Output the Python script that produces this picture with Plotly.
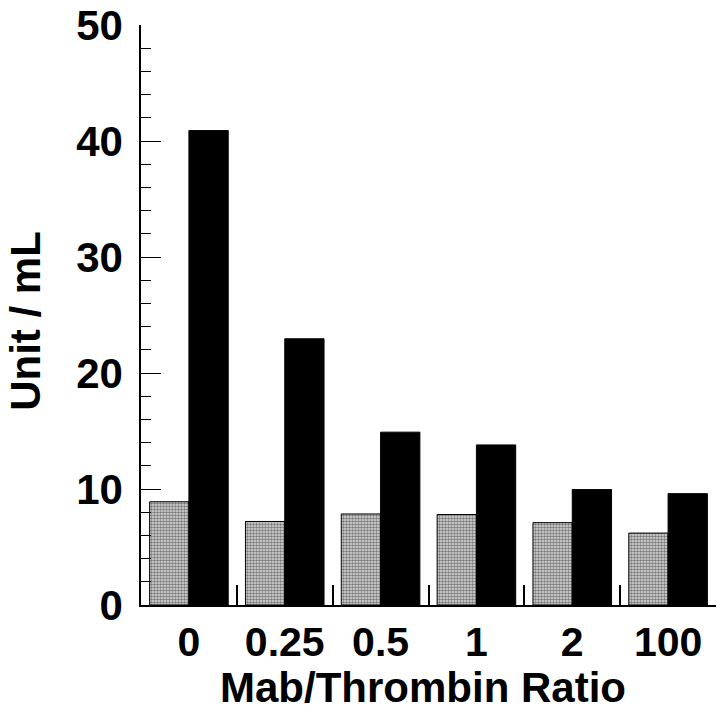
import plotly.graph_objects as go

RATIOS = ["0", "0.25", "0.5", "1", "2", "100"]
GRAY_VALUES = [8.9, 7.2, 7.85, 7.8, 7.1, 6.2]
BLACK_VALUES = [40.9, 22.95, 14.9, 13.8, 9.95, 9.6]

FONT = "Liberation Sans, Arial, sans-serif"

fig = go.Figure()

fig.add_trace(go.Bar(
    x=RATIOS, y=GRAY_VALUES, name="gray",
    marker=dict(
        color="#b0b0b0",
        line=dict(color="black", width=1),
        pattern=dict(shape=".", fgcolor="#1a1a1a", bgcolor="#dcdcdc", size=3, solidity=0.55),
    ),
))
fig.add_trace(go.Bar(
    x=RATIOS, y=BLACK_VALUES, name="black",
    marker=dict(color="black", line=dict(color="black", width=1)),
))

fig.update_layout(
    width=720, height=712,
    barmode="group", bargap=0.18, bargroupgap=0,
    plot_bgcolor="white", paper_bgcolor="white",
    showlegend=False,
    margin=dict(l=141, r=4, t=25, b=107, autoexpand=False),
    font=dict(family=FONT, size=42, color="black", weight="bold"),
)

fig.update_xaxes(
    type="category", range=[-0.5, 5.5], automargin=False,
    showline=True, linecolor="black", linewidth=1.5,
    ticks="inside", tickson="boundaries", ticklen=20, tickcolor="black", tickwidth=1.5,
    showgrid=False, zeroline=False,
    tickfont=dict(size=41, family=FONT, weight="bold"),
)

fig.update_yaxes(
    range=[0, 50], dtick=10, automargin=False,
    showline=True, linecolor="black", linewidth=1.5,
    ticks="inside", ticklen=20, tickcolor="black", tickwidth=1,
    minor=dict(dtick=2, ticks="inside", ticklen=10, tickcolor="black", tickwidth=1),
    showgrid=False, zeroline=False,
    ticklabelstandoff=8, ticklabeloverflow="allow",
    tickfont=dict(size=42, family=FONT, weight="bold"),
)

# axis titles placed as annotations to match the reference positions
fig.add_annotation(
    text="Unit / mL", xref="paper", yref="paper", x=-0.2, y=0.49,
    textangle=-90, showarrow=False, xanchor="center", yanchor="middle",
    font=dict(size=42, family=FONT, weight="bold"),
)
fig.add_annotation(
    text="Mab/Thrombin Ratio", xref="paper", yref="paper", x=0.49, y=-0.143,
    showarrow=False, xanchor="center", yanchor="middle",
    font=dict(size=42, family=FONT, weight="bold"),
)

# drop the default body margin so the figure sits at the window's corner
fig.write_html(
    "out.html",
    config={"displayModeBar": False},
    post_script="document.body.style.margin='0';",
)
